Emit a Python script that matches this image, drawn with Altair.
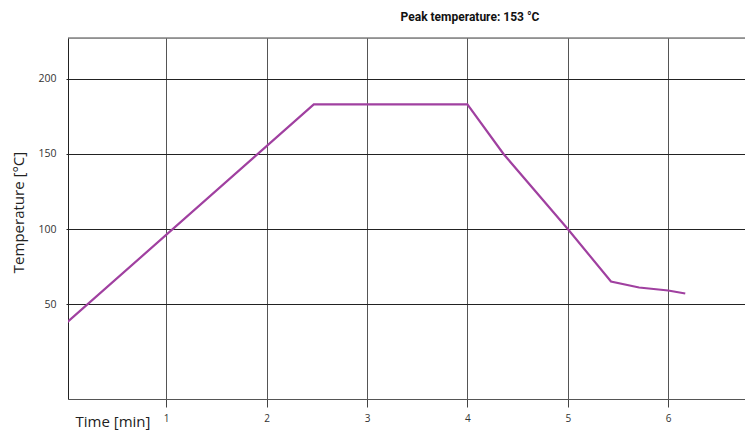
import altair as alt
import pandas as pd

# Data
time_min = [0.0, 2.47, 4.0, 4.36, 5.0, 5.43, 5.71, 6.0, 6.17]
temp_c = [37, 183, 183, 150, 100, 65, 61, 59, 57]
x_ticks = [1, 2, 3, 4, 5, 6]
y_ticks = [50, 100, 150, 200]
title_text = "Peak temperature: 153 °C"

W, H = 677, 361
df = pd.DataFrame({"t": time_min, "T": temp_c})

x_scale = alt.Scale(domain=[0.022, 6.765], nice=False, zero=False)
y_scale = alt.Scale(domain=[-13.3, 227.3], nice=False, zero=False)

line = alt.Chart(df).mark_line(color="#A040A0", strokeWidth=2.2, clip=True).encode(
    x=alt.X("t:Q", scale=x_scale,
            axis=alt.Axis(values=x_ticks, grid=True, gridColor="#555", gridWidth=1, gridOpacity=1,
                          tickSize=8, tickColor="#444", domainColor="#555", labelPadding=6,
                          labelFont="Open Sans", labelFontSize=10, labelColor="#333",
                          title="Time [min]", titleFont="Open Sans", titleFontSize=15,
                          titleFontWeight="normal", titleColor="#222", titleX=7, titleY=22,
                          titleAlign="left", titleBaseline="middle", titleAnchor="start")),
    y=alt.Y("T:Q", scale=y_scale,
            axis=alt.Axis(values=y_ticks, grid=True, gridColor="#222", gridWidth=1, gridOpacity=1,
                          tickSize=2, tickColor="#222", domainColor="#222", labelPadding=10,
                          labelFont="Open Sans", labelFontSize=10.5, labelColor="#333",
                          title="Temperature [°C]", titleFont="Open Sans", titleFontSize=15,
                          titleFontWeight="normal", titleColor="#222", titleX=-50, titleY=174,
                          titleAngle=270, titleAlign="center", titleBaseline="middle")),
)

top_border = alt.Chart(pd.DataFrame({"a": [0]})).mark_rule(color="#444", strokeWidth=1).encode(
    x=alt.value(0), x2=alt.value(W), y=alt.value(0)
)

title = alt.Chart(pd.DataFrame({"txt": [title_text]})).mark_text(
    font="Roboto", fontSize=12, fontWeight="bold", color="#111", align="center", baseline="middle"
).encode(text="txt:N", x=alt.value(402), y=alt.value(-21))

chart = alt.layer(line, top_border, title).properties(
    width=W, height=H,
    autosize=alt.AutoSizeParams(type="none"),
    padding={"left": 60, "top": 30, "right": 0, "bottom": 34},
).configure_view(stroke=None).configure(background="white")

chart.save("out.html", embed_options={"renderer": "svg", "actions": False})
